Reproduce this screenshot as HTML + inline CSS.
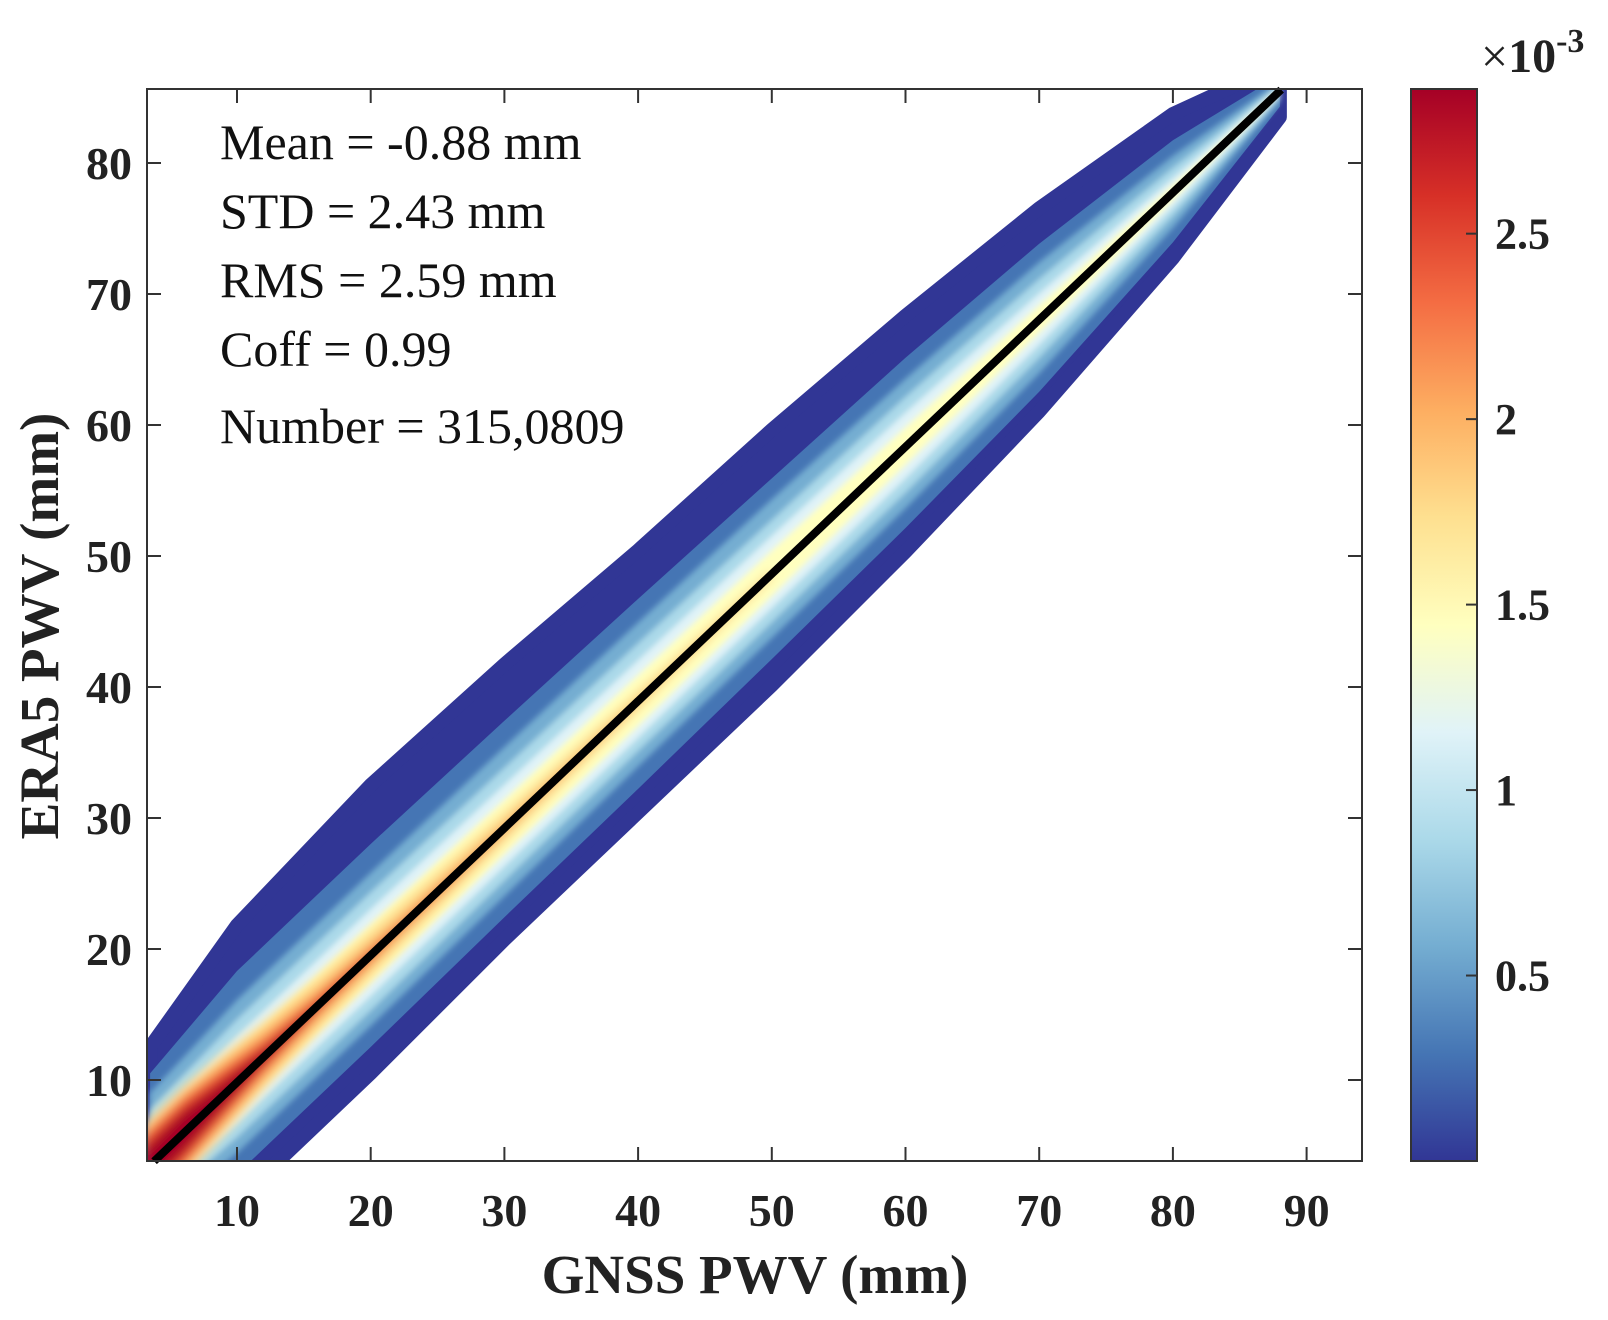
<!DOCTYPE html>
<html><head><meta charset="utf-8">
<style>
html,body{margin:0;padding:0;background:#fff;}
svg{display:block;font-family:"Liberation Serif",serif;}
</style></head>
<body>
<svg id="chart" width="1608" height="1320" viewBox="0 0 1608 1320" xmlns="http://www.w3.org/2000/svg">
<defs>
<clipPath id="plotclip"><rect x="147" y="89" width="1215" height="1072"/></clipPath>
<linearGradient id="cbgrad" x1="0" y1="1" x2="0" y2="0">
<stop offset="0" stop-color="#313695"/><stop offset="0.1" stop-color="#4575b4"/>
<stop offset="0.2" stop-color="#74add1"/><stop offset="0.3" stop-color="#abd9e9"/>
<stop offset="0.4" stop-color="#e0f3f8"/><stop offset="0.5" stop-color="#ffffbf"/>
<stop offset="0.6" stop-color="#fee090"/><stop offset="0.7" stop-color="#fdae61"/>
<stop offset="0.8" stop-color="#f46d43"/><stop offset="0.9" stop-color="#d73027"/>
<stop offset="1" stop-color="#a50026"/>
</linearGradient>
<filter id="soft" x="-5%" y="-5%" width="110%" height="110%"><feGaussianBlur stdDeviation="5"/></filter>
<filter id="soft2" x="-5%" y="-5%" width="110%" height="110%"><feGaussianBlur stdDeviation="3"/></filter>
</defs>
<g clip-path="url(#plotclip)">
<g id="bands"></g>
<g id="inner" filter="url(#soft2)"></g>
<g id="core" filter="url(#soft)"></g>
</g>
<line id="fitline" stroke="#000" stroke-width="8"/>
<rect x="147" y="89" width="1215" height="1072" fill="none" stroke="#333" stroke-width="2"/>
<g id="ticks"></g>
<g font-size="50" fill="#111">
<text x="220" y="159">Mean = -0.88 mm</text>
<text x="220" y="228">STD = 2.43 mm</text>
<text x="220" y="297">RMS = 2.59 mm</text>
<text x="220" y="366">Coff = 0.99</text>
<text x="220" y="443">Number = 315,0809</text>
</g>
<text x="755" y="1293" font-size="55" font-weight="bold" text-anchor="middle" fill="#222">GNSS PWV (mm)</text>
<text transform="translate(58,626) rotate(-90)" font-size="55" font-weight="bold" text-anchor="middle" fill="#222">ERA5  PWV (mm)</text>
<rect x="1411" y="89" width="66" height="1072" fill="url(#cbgrad)" stroke="#333" stroke-width="2"/>
<text x="1481" y="72" font-size="48" fill="#222"><tspan>×</tspan><tspan font-weight="bold">10</tspan><tspan font-weight="bold" font-size="34" dy="-20">-3</tspan></text>
<g id="cbticks"></g>
</svg>
<script>
const xTicks = [10,20,30,40,50,60,70,80,90];
const yTicks = [10,20,30,40,50,60,70,80];
const cbTicks = [0.5,1,1.5,2,2.5];
const cbLabels = ["0.5","1","1.5","2","2.5"];
const bandX = [3.5,10,20,30,40,50,60,70,80,88];
const bandColors = ["#313695","#4575b4"];
const bandUpper = [
 [9,12,13,12.5,11.5,11,10,8.5,6,2],
 [7,8.5,8.5,8.2,7.8,7.3,6.8,5.8,4,1.2]];
const bandLower = [
 [-7,-9,-9,-8.5,-8.5,-8.5,-8,-7,-5,-2],
 [-5.5,-7,-7,-6.8,-6.7,-6.5,-6.2,-5.5,-3.8,-1.2]];
const innerColors = ["#74add1","#abd9e9","#e0f3f8","#ffffbf"];
const innerUpper = [
 [5.5,6.3,6.3,6.2,6,5.7,5.2,4.4,2.8,0.8],
 [4.2,4.8,4.8,4.6,4.4,4.1,3.8,3.1,1.9,0.5],
 [3,3.5,3.5,3.3,3.1,2.9,2.6,2,1.1,0.3],
 [2,2.4,2.4,2.2,2,1.8,1.5,1.1,0.6,0.1]];
const innerLower = [
 [-4.5,-5.4,-5.4,-5.2,-5,-4.9,-4.7,-4.1,-2.7,-0.8],
 [-3.5,-4.2,-4.2,-4,-3.8,-3.7,-3.5,-2.9,-1.8,-0.5],
 [-2.6,-3.1,-3.1,-2.9,-2.8,-2.6,-2.4,-1.9,-1.1,-0.3],
 [-1.8,-2.1,-2.1,-2,-1.9,-1.7,-1.4,-1,-0.6,-0.1]];
const coreX = [3,6,9,12,16,22,30,40,50];
const coreColors = ["#fee090","#fdae61","#f46d43","#d73027","#a50026"];
const coreUpper = [[3.6,3.6,3.2,2.7,2.2,1.8,1.3,0.8,0.3],[3.1,3.1,2.6,2,1.4,0.9,0.4,0.1,0.05],[2.7,2.7,2.1,1.4,0.8,0.3,0.1,0.05,0.02],[2.2,2.2,1.6,0.9,0.4,0.1,0.05,0.02,0.01],[1.5,1.6,1,0.5,0.1,0.05,0.02,0.01,0.01]];
const coreLower = [[-3.4,-3.4,-3,-2.5,-2,-1.6,-1.2,-0.7,-0.3],[-2.9,-2.9,-2.4,-1.8,-1.3,-0.8,-0.4,-0.1,-0.05],[-2.5,-2.5,-1.9,-1.3,-0.7,-0.3,-0.1,-0.05,-0.02],[-2,-2,-1.4,-0.8,-0.3,-0.1,-0.05,-0.02,-0.01],[-1.4,-1.4,-0.9,-0.4,-0.1,-0.05,-0.02,-0.01,-0.01]];
const lineStart = [3.8,3.8], lineEnd = [88.1,85.6];
const cbMin = 0, cbMax = 2.89;

const NS="http://www.w3.org/2000/svg";
const X = v => 237 + (v-10)*13.37;
const Y = v => 1080 - (v-10)*13.1;
const CB = v => 1161 - (v-cbMin)/(cbMax-cbMin)*1072;
const slope = (lineEnd[1]-lineStart[1])/(lineEnd[0]-lineStart[0]);
const center = x => lineStart[1] + (x-lineStart[0])*slope;

function bandPath(xs, up, lo){
  let pts=[];
  xs.forEach((x,i)=>pts.push(X(x)+","+Y(center(x)+up[i])));
  for(let i=xs.length-1;i>=0;i--) pts.push(X(xs[i])+","+Y(center(xs[i])+lo[i]));
  return pts.join(" ");
}
function addBand(parent,xs,up,lo,color,sw){
  const p=document.createElementNS(NS,'polygon');
  p.setAttribute('points',bandPath(xs,up,lo));
  p.setAttribute('fill',color);
  p.setAttribute('stroke',sw>0?color:'none');
  p.setAttribute('stroke-width',String(sw));
  p.setAttribute('stroke-linejoin','round');
  
  
  parent.appendChild(p);
}
const g=document.getElementById('bands');
bandColors.forEach((c,i)=>addBand(g,bandX,bandUpper[i],bandLower[i],c,i==0?14:0));
const gi=document.getElementById('inner');
innerColors.forEach((c,i)=>addBand(gi,bandX,innerUpper[i],innerLower[i],c,0));
const cg0=document.getElementById('core');
coreColors.forEach((c,i)=>addBand(cg0,coreX,coreUpper[i],coreLower[i],c,0));

const fl=document.getElementById('fitline');
fl.setAttribute('x1',X(lineStart[0]));fl.setAttribute('y1',Y(lineStart[1]));
fl.setAttribute('x2',X(lineEnd[0]));fl.setAttribute('y2',Y(lineEnd[1]));

const tg=document.getElementById('ticks');
function mk(tag,attrs,parent,text){
  const e=document.createElementNS(NS,tag);
  for(const k in attrs)e.setAttribute(k,attrs[k]);
  if(text!==undefined)e.textContent=text;
  parent.appendChild(e);return e;
}
xTicks.forEach(v=>{
  const x=X(v);
  const a=mk('line',{x1:x,x2:x,y1:1161,y2:1147,stroke:'#333','stroke-width':2},tg);
  
  
  const b=mk('line',{x1:x,x2:x,y1:89,y2:103,stroke:'#333','stroke-width':2},tg);
  
  
  const t=mk('text',{x:x,y:1226,'font-size':46,'font-weight':'bold','text-anchor':'middle',fill:'#222'},tg,String(v));
  
  
});
yTicks.forEach(v=>{
  const y=Y(v);
  const a=mk('line',{x1:147,x2:161,y1:y,y2:y,stroke:'#333','stroke-width':2},tg);
  
  
  const b=mk('line',{x1:1348,x2:1362,y1:y,y2:y,stroke:'#333','stroke-width':2},tg);
  
  
  const t=mk('text',{x:132,y:y+16,'font-size':46,'font-weight':'bold','text-anchor':'end',fill:'#222'},tg,String(v));
  
  
});
const cg=document.getElementById('cbticks');
cbTicks.forEach((v,i)=>{
  const y=CB(v);
  const a=mk('line',{x1:1466,x2:1477,y1:y,y2:y,stroke:'#333','stroke-width':2},cg);
  
  
  const t=mk('text',{x:1495,y:y+15,'font-size':44,'font-weight':'bold',fill:'#222'},cg,cbLabels[i]);
  
  
});
</script>
</body></html>
